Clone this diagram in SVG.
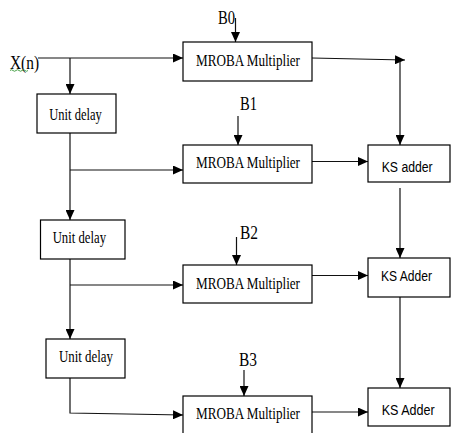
<svg xmlns="http://www.w3.org/2000/svg" width="451" height="433" viewBox="0 0 451 433">
<style>
.box{fill:#fff;stroke:#000;stroke-width:1.2}
.ln{fill:none;stroke:#111;stroke-width:1.2}
.serif{font-family:"Liberation Serif","Times New Roman",serif;fill:#000}
.sans{font-family:"Liberation Sans",Arial,sans-serif;fill:#000}
.m{font-size:17px}
.u{font-size:17px}
.b{font-size:19px}
.k{font-size:14px}
</style>
<defs>
<marker id="ah" markerUnits="userSpaceOnUse" markerWidth="10" markerHeight="9" refX="10" refY="4.5" orient="auto">
<path d="M0,0 L10,4.5 L0,9 z" fill="#000"/>
</marker>
</defs>
<rect width="451" height="433" fill="#fff"/>
<g id="connectors">
<path class="ln" d="M38,58 H183" marker-end="url(#ah)"/>
<path class="ln" d="M70,58 V94" marker-end="url(#ah)"/>
<path class="ln" d="M235.5,18 V42" marker-end="url(#ah)"/>
<path class="ln" d="M312,58 L405,60" marker-end="url(#ah)"/>
<path class="ln" d="M400,61 V145" marker-end="url(#ah)"/>
<path class="ln" d="M70,133 V220" marker-end="url(#ah)"/>
<path class="ln" d="M70,170 H183" marker-end="url(#ah)"/>
<path class="ln" d="M238,116 V145" marker-end="url(#ah)"/>
<path class="ln" d="M312,161.5 H368" marker-end="url(#ah)"/>
<path class="ln" d="M400,188 V258" marker-end="url(#ah)"/>
<path class="ln" d="M70,259 V339" marker-end="url(#ah)"/>
<path class="ln" d="M70,285 H183" marker-end="url(#ah)"/>
<path class="ln" d="M236.5,237 V265" marker-end="url(#ah)"/>
<path class="ln" d="M312,275.5 H368" marker-end="url(#ah)"/>
<path class="ln" d="M400,297 V388" marker-end="url(#ah)"/>
<path class="ln" d="M70,378 V413 L183,415" marker-end="url(#ah)"/>
<path class="ln" d="M244,370 V396" marker-end="url(#ah)"/>
<path class="ln" d="M312,412 H368" marker-end="url(#ah)"/>
</g>
<g id="input">
<text class="serif" x="10" y="69" font-size="18" textLength="29" lengthAdjust="spacingAndGlyphs">X(n)</text>
<path d="M10,70.5 q1.5,-1.5 3,0 t3,0 t3,0 t3,0 t3,0 t3,0" fill="none" stroke="#3a9a3a" stroke-width="0.9"/>
</g>
<g id="b0"><text class="serif b" x="218" y="24" textLength="17" lengthAdjust="spacingAndGlyphs">B0</text></g>
<g id="b1"><text class="serif b" x="240" y="110" textLength="17" lengthAdjust="spacingAndGlyphs">B1</text></g>
<g id="b2"><text class="serif b" x="240" y="239" textLength="18" lengthAdjust="spacingAndGlyphs">B2</text></g>
<g id="b3"><text class="serif b" x="239" y="366" textLength="18" lengthAdjust="spacingAndGlyphs">B3</text></g>
<g id="unit-delay-1">
<rect class="box" x="37" y="94" width="79" height="39"/>
<text class="serif u" x="49.3" y="120" textLength="52.4" lengthAdjust="spacingAndGlyphs">Unit delay</text>
</g>
<g id="unit-delay-2">
<rect class="box" x="40.5" y="220" width="84.5" height="39"/>
<text class="serif u" x="52.7" y="243" textLength="53.3" lengthAdjust="spacingAndGlyphs">Unit delay</text>
</g>
<g id="unit-delay-3">
<rect class="box" x="46" y="339" width="79" height="39"/>
<text class="serif u" x="59" y="362" textLength="54" lengthAdjust="spacingAndGlyphs">Unit delay</text>
</g>
<g id="mult-1">
<rect class="box" x="183" y="42" width="129" height="39"/>
<text class="serif m" x="196" y="66" textLength="104" lengthAdjust="spacingAndGlyphs">MROBA Multiplier</text>
</g>
<g id="mult-2">
<rect class="box" x="183" y="145" width="129" height="38"/>
<text class="serif m" x="196" y="167.5" textLength="104" lengthAdjust="spacingAndGlyphs">MROBA Multiplier</text>
</g>
<g id="mult-3">
<rect class="box" x="183" y="265" width="129" height="38"/>
<text class="serif m" x="196" y="289" textLength="104" lengthAdjust="spacingAndGlyphs">MROBA Multiplier</text>
</g>
<g id="mult-4">
<rect class="box" x="183" y="396" width="129" height="44"/>
<text class="serif m" x="196" y="419" textLength="104" lengthAdjust="spacingAndGlyphs">MROBA Multiplier</text>
</g>
<g id="ks-adder-1">
<rect class="box" x="368" y="145" width="82" height="37"/>
<text class="sans k" x="381.7" y="172" textLength="51" lengthAdjust="spacingAndGlyphs">KS adder</text>
</g>
<g id="ks-adder-2">
<rect class="box" x="368" y="258" width="82" height="39"/>
<text class="sans k" x="381" y="281" textLength="51" lengthAdjust="spacingAndGlyphs">KS Adder</text>
</g>
<g id="ks-adder-3">
<rect class="box" x="368" y="388" width="82" height="38"/>
<text class="sans k" x="381.7" y="415" textLength="53" lengthAdjust="spacingAndGlyphs">KS Adder</text>
</g>
</svg>
